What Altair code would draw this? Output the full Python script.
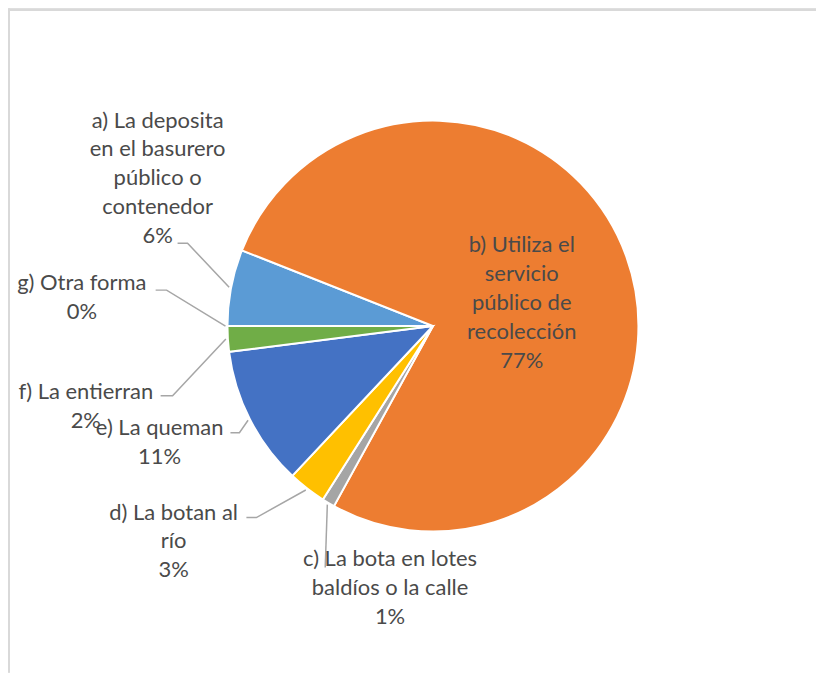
import math
import altair as alt
import pandas as pd

# ---- data ----
keys = ["a", "b", "c", "d", "e", "f", "g"]
labels = [
    "a) La deposita\nen el basurero\npúblico o\ncontenedor",
    "b) Utiliza el\nservicio\npúblico de\nrecolección",
    "c) La bota en lotes\nbaldíos o la calle",
    "d) La botan al\nrío",
    "e) La queman",
    "f) La entierran",
    "g) Otra forma",
]
values = [6, 77, 1, 3, 11, 2, 0]
colors = ["#5B9BD5", "#ED7D31", "#A5A5A5", "#FFC000", "#4472C4", "#70AD47", "#255E91"]

# ---- layout (pixel positions inside the plot area; y = first text line) ----
W, H = 810, 665
CX, CY, R = 426, 318, 206
START = 270.0  # degrees, clockwise from 12 o'clock
label_xy = {
    "a": (150, 112), "b": (515, 237), "c": (383, 552), "d": (166, 505),
    "e": (152, 420), "f": (78, 384), "g": (74, 275),
}
elbows = {
    "a": [(170, 235), (180, 235)],
    "c": [(318, 560)],
    "d": [(239, 510), (249, 510)],
    "e": [(223, 425), (232, 425)],
    "f": [(153, 388), (165, 388)],
    "g": [(148, 282), (159, 282)],
}

total = sum(values)
df = pd.DataFrame({
    "key": keys,
    "ord": list(range(len(keys))),
    "value": values,
    "text": [l + "\n" + f"{round(v / total * 100)}%" for l, v in zip(labels, values)],
    "lx": [label_xy[k][0] for k in keys],
    "ly": [label_xy[k][1] for k in keys],
})

# leader lines: label side points + anchor on the pie computed from the data
rows = []
cum = 0.0
for k, v in zip(keys, values):
    mid = math.radians(START + 360.0 * (cum + v / 2.0) / total)
    cum += v
    if k not in elbows:
        continue
    ra = R + 2
    ax, ay = CX + ra * math.sin(mid), CY - ra * math.cos(mid)
    pts = elbows[k] + [(ax, ay)]
    for i, (px, py) in enumerate(pts):
        rows.append({"key": k, "i": i, "px": px, "py": py})
lines_df = pd.DataFrame(rows)

color_scale = alt.Scale(domain=keys, range=colors)

pie = alt.Chart(df).mark_arc(radius=R, stroke="white", strokeWidth=2).encode(
    theta=alt.Theta("value:Q", stack=True,
                    scale=alt.Scale(range=[math.radians(START), math.radians(START) + 2 * math.pi])),
    order=alt.Order("ord:Q"),
    color=alt.Color("key:N", scale=color_scale, legend=None),
    x=alt.value(CX),
    y=alt.value(CY),
)

leaders = alt.Chart(lines_df).mark_line(color="#A6A6A6", strokeWidth=1.5).encode(
    x=alt.X("px:Q", scale=None, axis=None),
    y=alt.Y("py:Q", scale=None, axis=None),
    detail="key:N",
    order="i:Q",
)

texts = alt.Chart(df).mark_text(
    font="Lato", fontSize=22, color="#4A4A4A", lineBreak="\n", lineHeight=29,
    align="center", baseline="middle",
).encode(
    x=alt.X("lx:Q", scale=None, axis=None),
    y=alt.Y("ly:Q", scale=None, axis=None),
    text="text:N",
)

frame_top = alt.Chart(df).mark_rule(color="#D9D9D9", strokeWidth=2).encode(
    x=alt.value(0), x2=alt.value(W), y=alt.value(1))
frame_left = alt.Chart(df).mark_rule(color="#D9D9D9", strokeWidth=2).encode(
    x=alt.value(1), y=alt.value(0), y2=alt.value(H))

chart = alt.layer(frame_top, frame_left, pie, leaders, texts).properties(
    width=W, height=H, autosize=alt.AutoSizeParams(type="none"), padding=0,
).configure_view(stroke=None)

chart.save("out.html", embed_options={"renderer": "svg", "actions": False})
